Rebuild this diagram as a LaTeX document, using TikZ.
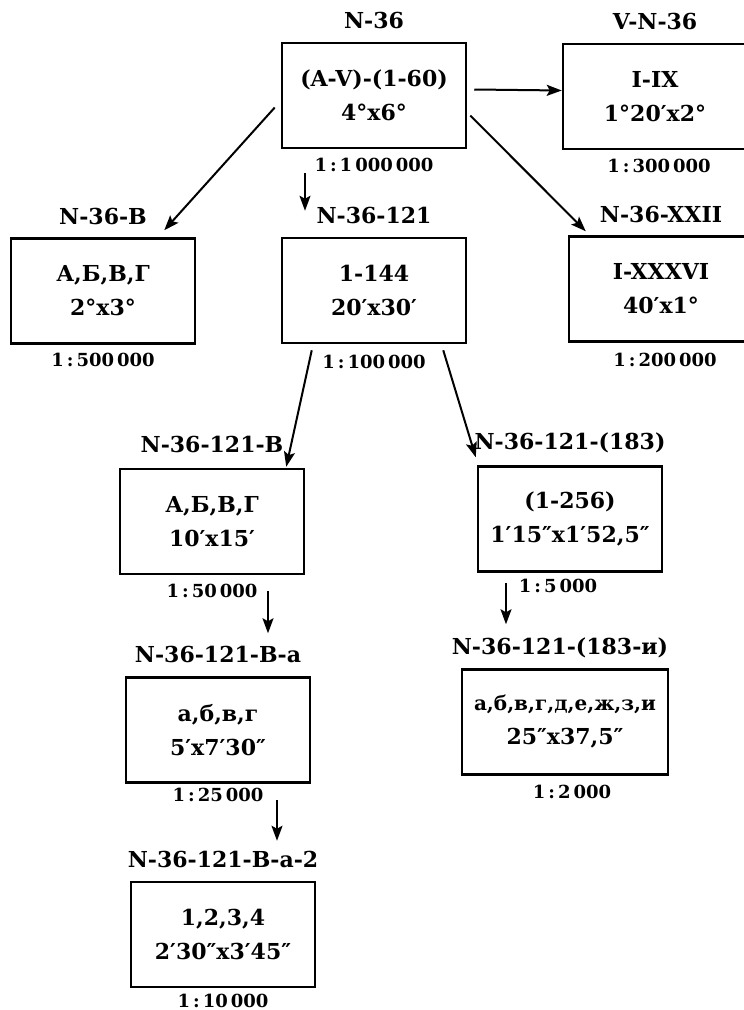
\documentclass[tikz,border=0pt]{standalone}
\usepackage{fontspec}
\setmainfont{DejaVu Serif}
\usetikzlibrary{arrows.meta,positioning}

\begin{document}
\begin{tikzpicture}[x=1pt,y=-1pt,
  sheet/.style={draw,line width=2.5pt,minimum width=184pt,minimum height=105pt,align=center,inner sep=0pt,font=\fontsize{22}{34}\selectfont\bfseries},
  sheetname/.style={inner sep=0pt,text depth=0pt,font=\fontsize{22}{26}\selectfont\bfseries},
  ratio/.style={inner sep=0pt,text height=13pt,text depth=0pt,font=\fontsize{18}{21}\selectfont\bfseries},
  arrow/.style={-{Stealth[length=15pt,width=11pt,inset=3pt]},line width=2pt}
]
\useasboundingbox (0,0) rectangle (744,1010);

\node[sheet] (n36) at (374,95.5) {(A-V)-(1-60)\\4°x6°};
\node[sheetname,above=13pt of n36] (t36) {N-36};
\node[ratio,below=9pt of n36] (r36) {1\,:\,1\,000\,000};

\node[sheet] (vn36) at (655,96.5) {I-IX\\1°20′x2°};
\node[sheetname,above=13pt of vn36] (tvn36) {V-N-36};
\node[ratio,below=9pt of vn36,xshift=4pt] (rvn36) {1\,:\,300\,000};

\node[sheet] (n36v) at (103,291) {А,Б,В,Г\\2°x3°};
\node[sheetname,above=13pt of n36v] (tn36v) {N-36-В};
\node[ratio,below=9pt of n36v] (rn36v) {1\,:\,500\,000};

\node[sheet] (n121) at (374,290.5) {1-144\\20′x30′};
\node[sheetname,above=13pt of n121] (t121) {N-36-121};
\node[ratio,below=11pt of n121] (r121) {1\,:\,100\,000};

\node[sheet] (nxxii) at (661,289) {I-XXXVI\\40′x1°};
\node[sheetname,above=13pt of nxxii] (txxii) {N-36-XXII};
\node[ratio,below=11pt of nxxii,xshift=4pt] (rxxii) {1\,:\,200\,000};

\node[sheet] (n121v) at (212,521.5) {А,Б,В,Г\\10′x15′};
\node[sheetname,above=15pt of n121v] (t121v) {N-36-121-В};
\node[ratio,below=9pt of n121v] (r121v) {1\,:\,50\,000};

\node[sheet] (n183) at (570,519) {(1-256)\\1′15″x1′52,5″};
\node[sheetname,above=16pt of n183] (t183) {N-36-121-(183)};
\node[ratio,below=7pt of n183,xshift=-12pt] (r183) {1\,:\,5\,000};

\node[sheet] (n121va) at (218,730) {а,б,в,г\\5′x7′30″};
\node[sheetname,above=14pt of n121va] (t121va) {N-36-121-В-а};
\node[ratio,below=5pt of n121va] (r121va) {1\,:\,25\,000};

\node[sheet,minimum width=206pt] (n183i) at (565,722) {{\fontsize{20}{34}\selectfont а,б,в,г,д,е,ж,з,и}\\25″x37,5″};
\node[sheetname,above=14pt of n183i,xshift=-5pt] (t183i) {N-36-121-(183-и)};
\node[ratio,below=10pt of n183i,xshift=7pt] (r183i) {1\,:\,2\,000};

\node[sheet] (n121va2) at (223,934.5) {1,2,3,4\\2′30″x3′45″};
\node[sheetname,above=13pt of n121va2] (t121va2) {N-36-121-В-а-2};
\node[ratio,below=6pt of n121va2] (r121va2) {1\,:\,10\,000};

\draw[arrow] ([xshift=7pt,yshift=6pt]n36.east) -- ([yshift=6pt]vn36.west);
\draw[arrow] ([shift={(3pt,-20pt)}]n36.east) -- ([shift={(18pt,4pt)}]nxxii.north west);
\draw[arrow] ([shift={(-6pt,-12pt)}]n36.west) -- ([shift={(-32pt,7pt)}]n36v.north east);
\draw[arrow] ([shift={(-69pt,-24pt)}]n36.south) -- ([shift={(-69pt,26pt)}]n121.north);
\draw[arrow] ([shift={(31pt,-6pt)}]n121.south west) -- ([shift={(-19pt,1pt)}]n121v.north east);
\draw[arrow] ([shift={(-24pt,-6pt)}]n121.south east) -- ([shift={(-1pt,8pt)}]n183.north west);
\draw[arrow] ([shift={(56pt,-16pt)}]n121v.south) -- ([shift={(50pt,43pt)}]n121va.north);
\draw[arrow] ([shift={(59pt,-16pt)}]n121va.south) -- ([shift={(54pt,40pt)}]n121va2.north);
\draw[arrow] ([shift={(-64pt,-10pt)}]n183.south) -- ([shift={(-59pt,44pt)}]n183i.north);
\end{tikzpicture}
\end{document}
